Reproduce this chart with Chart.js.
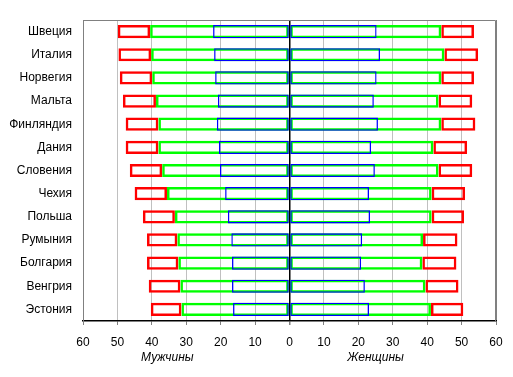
<!DOCTYPE html>
<html>
<head>
<meta charset="utf-8">
<script src="https://cdn.jsdelivr.net/npm/chart.js@4"></script>
<style>
  body { margin: 0; background: #fff; }
  canvas { display: block; }
</style>
</head>
<body>
<canvas id="myChart" width="513" height="377"></canvas>
<script>
// values (percent)
const categories = ['Швеция','Италия','Норвегия','Мальта','Финляндия','Дания','Словения','Чехия','Польша','Румыния','Болгария','Венгрия','Эстония'];
const menRed   = [49.9, 49.7, 49.3, 48.4, 47.6, 47.6, 46.4, 45.0, 42.6, 41.4, 41.4, 40.9, 40.3];
const menGreen = [40.5, 40.2, 39.9, 38.8, 38.1, 38.1, 37.0, 35.6, 33.3, 32.6, 32.3, 31.7, 31.4];
const menBlue  = [22.2, 21.9, 21.6, 20.8, 21.1, 20.5, 20.2, 18.7, 17.9, 16.9, 16.7, 16.7, 16.4];
const womenRed   = [53.6, 54.8, 53.6, 53.1, 54.0, 51.6, 53.1, 51.0, 50.7, 48.8, 48.5, 49.1, 50.5];
const womenGreen = [44.1, 45.0, 44.1, 43.3, 44.1, 41.8, 43.3, 41.3, 41.3, 38.8, 38.6, 39.5, 41.1];
const womenBlue  = [25.3, 26.3, 25.3, 24.5, 25.7, 23.7, 24.8, 23.1, 23.4, 21.1, 20.8, 21.9, 23.1];
const tickValues = [-60,-50,-40,-30,-20,-10,0,10,20,30,40,50,60];
const axisTitles = [{text: 'Мужчины', at: -35.5}, {text: 'Женщины', at: 25}];

Chart.defaults.font.family = '"Liberation Sans", Arial, sans-serif';
Chart.defaults.font.size = 12;
Chart.defaults.color = '#000';

function box(data, color, width, order) {
    return {
        data: data,
        borderColor: color,
        backgroundColor: 'rgba(0,0,0,0)',
        borderWidth: width,
        borderSkipped: false,
        grouped: false,
        barPercentage: 0.57,
        categoryPercentage: 1,
        order: order
    };
}

const frame = {
    id: 'frame',
    afterDraw(chart) {
        const c = chart.ctx, a = chart.chartArea, x = chart.scales.x;
        c.save();
        c.strokeStyle = '#808080';
        c.lineWidth = 1;
        c.beginPath();
        c.moveTo(a.left + 0.5, a.bottom);
        c.lineTo(a.left + 0.5, a.top + 0.5);
        c.lineTo(a.right - 0.5, a.top + 0.5);
        c.lineTo(a.right - 0.5, a.bottom);
        c.stroke();
        c.font = 'italic 12px "Liberation Sans", Arial, sans-serif';
        c.fillStyle = '#000';
        c.textAlign = 'center';
        c.textBaseline = 'middle';
        axisTitles.forEach(t => c.fillText(t.text, x.getPixelForValue(t.at), 358));
        c.restore();
    }
};

new Chart(document.getElementById('myChart'), {
    type: 'bar',
    data: {
        labels: categories,
        datasets: [
            box(menRed.map((v, i) => [-v, -menGreen[i]]), '#ff0000', 2.5, 3),
            box(menGreen.map(v => [-v, 0]), '#00ff00', 2.5, 2),
            box(menBlue.map(v => [-v, 0]), '#0000ff', 1.3, 1),
            box(womenRed.map((v, i) => [womenGreen[i], v]), '#ff0000', 2.5, 3),
            box(womenGreen.map(v => [0, v]), '#00ff00', 2.5, 2),
            box(womenBlue.map(v => [0, v]), '#0000ff', 1.3, 1)
        ]
    },
    options: {
        indexAxis: 'y',
        responsive: false,
        animation: false,
        layout: { padding: { left: 0, right: 17, top: 20, bottom: 0 } },
        plugins: { legend: { display: false }, tooltip: { enabled: false } },
        scales: {
            x: {
                min: -60,
                max: 60,
                afterBuildTicks: scale => { scale.ticks = tickValues.map(v => ({ value: v })); },
                afterFit: scale => { scale.height = 56; },
                ticks: { callback: v => Math.abs(v), padding: 10, maxRotation: 0 },
                grid: {
                    color: ctx => ctx.tick.value === 0 ? '#000' : (Math.abs(ctx.tick.value) === 60 ? '#808080' : '#c0c0c0'),
                    lineWidth: ctx => ctx.tick.value === 0 ? 1.5 : 1,
                    tickLength: 4,
                    tickColor: '#808080'
                },
                border: { color: '#000', width: 1.5 }
            },
            y: {
                afterFit: scale => { scale.width = 83; },
                ticks: { padding: 11 },
                grid: { display: false, drawTicks: false },
                border: { color: '#808080' }
            }
        }
    },
    plugins: [frame]
});
</script>
</body>
</html>
